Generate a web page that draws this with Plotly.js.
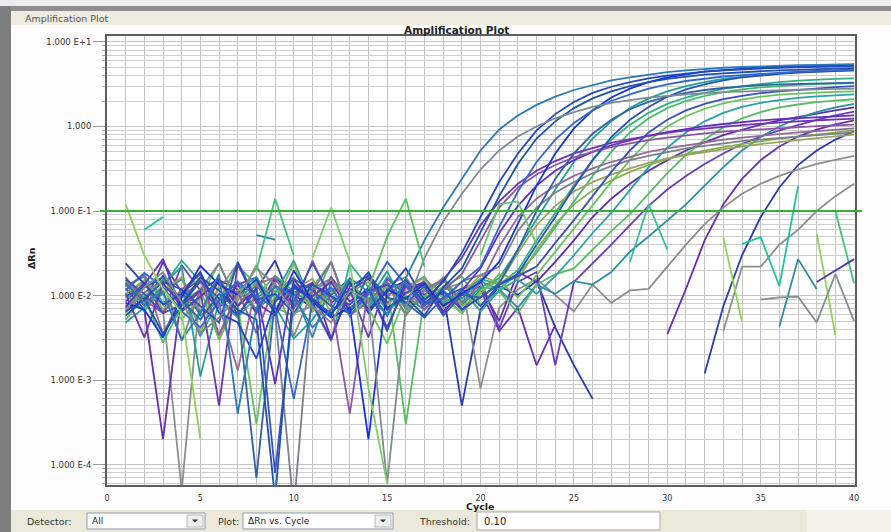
<!DOCTYPE html>
<html><head><meta charset="utf-8">
<script src="https://cdn.plot.ly/plotly-3.0.1.min.js"></script>
<style>html,body{margin:0;padding:0;background:#fdfdfd;overflow:hidden}#chart{width:891px;height:532px}</style>
</head><body><div id="chart"></div>
<script>
// ---------------- DATA ----------------
const cycles = [1,2,3,4,5,6,7,8,9,10,11,12,13,14,15,16,17,18,19,20,21,22,23,24,25,26,27,28,29,30,31,32,33,34,35,36,37,38,39,40];
const threshold = 0.10;
const yTickVals = [10, 1, 0.1, 0.01, 0.001, 0.0001];
const yTickText = ['1.000 E+1', '1.000', '1.000 E-1', '1.000 E-2', '1.000 E-3', '1.000 E-4'];
const xTickVals = [0,5,10,15,20,25,30,35,40];

// full 40-cycle wells (ΔRn)
const wellA1 = [0.014,0.0085,0.011,0.003,0.0062,0.018,0.0004,0.0072,0.013,0.0095,
 0.0042,0.0068,0.016,0.011,0.0058,0.016,0.045,0.11,0.24,0.52,
 0.92,1.35,1.8,2.25,2.7,3.1,3.5,3.8,4.1,4.4,
 4.6,4.8,4.95,5.05,5.15,5.25,5.3,5.35,5.4,5.45];
const wellA2 = [0.0068,0.0125,0.019,0.0082,0.0036,0.0055,0.0098,0.021,0.0135,0.0062,
 0.0075,0.0048,0.0115,0.0088,0.00006,0.0072,0.028,0.075,0.16,0.31,
 0.52,0.76,1.0,1.25,1.48,1.7,1.9,2.05,2.2,2.3,
 2.4,2.48,2.55,2.6,2.65,2.7,2.72,2.75,2.78,2.8];
const wellA3 = [0.024,0.0135,0.0078,0.0105,0.019,0.0062,0.0048,0.0018,0.0085,0.0125,
 0.0092,0.0058,0.0145,0.0068,0.0112,0.021,0.0088,0.0145,0.032,0.085,
 0.22,0.48,0.9,1.4,1.95,2.5,2.95,3.35,3.7,4.0,
 4.25,4.45,4.6,4.75,4.85,4.95,5.05,5.1,5.15,5.2];
const wellA4 = [0.0058,0.0092,0.0035,0.0078,0.0165,0.0115,0.0068,0.0052,0.00004,0.0135,
 0.0088,0.0062,0.0105,0.019,0.0072,0.0095,0.0058,0.0125,0.021,0.055,
 0.15,0.36,0.72,1.15,1.65,2.15,2.6,3.0,3.35,3.65,
 3.9,4.1,4.25,4.4,4.5,4.6,4.7,4.75,4.82,4.9];
const wellA5 = [0.0115,0.0185,0.0125,0.0065,0.0042,0.0088,0.0145,0.0098,0.0072,0.0006,
 0.0082,0.0125,0.0058,0.0105,0.025,0.0135,0.0078,0.0092,0.0145,0.022,
 0.065,0.17,0.38,0.7,1.1,1.55,2.0,2.4,2.8,3.15,
 3.45,3.7,3.9,4.05,4.2,4.35,4.45,4.55,4.62,4.7];
const wellA6 = [0.0082,0.0068,0.0032,0.0095,0.0225,0.0135,0.0102,0.0155,0.0062,0.0198,
 0.0085,0.0055,0.0072,0.0002,0.0118,0.0092,0.0138,0.0075,0.0105,0.0145,
 0.025,0.07,0.2,0.48,0.95,1.55,2.2,2.8,3.35,3.8,
 4.15,4.45,4.65,4.85,4.98,5.08,5.15,5.2,5.25,5.3];
const wellA7 = [0.0098,0.0125,0.0165,0.0088,0.0052,0.0105,0.0068,0.00007,0.0092,0.0158,
 0.0115,0.0075,0.0062,0.0178,0.0095,0.0082,0.0128,0.0058,0.0102,0.0095,
 0.014,0.035,0.1,0.24,0.48,0.82,1.2,1.6,1.95,2.25,
 2.5,2.7,2.85,2.98,3.08,3.15,3.2,3.24,3.27,3.3];
const wellA8 = [0.0065,0.0092,0.0145,0.0118,0.0075,0.0048,0.025,0.0088,0.0105,0.0062,
 0.0135,0.0098,0.0078,0.0125,0.0038,0.0155,0.0082,0.0112,0.0068,0.0095,
 0.0135,0.018,0.04,0.085,0.19,0.4,0.75,1.2,1.7,2.25,
 2.75,3.15,3.5,3.8,4.0,4.2,4.33,4.45,4.53,4.6];
const wellA9 = [0.0155,0.0105,0.0062,0.0078,0.0148,0.0092,0.0058,0.0125,0.00008,0.0085,
 0.024,0.0098,0.0065,0.0112,0.0135,0.0082,0.0055,0.0095,0.0122,0.0075,
 0.0135,0.017,0.022,0.042,0.078,0.15,0.29,0.52,0.85,1.2,
 1.55,1.85,2.1,2.3,2.48,2.6,2.72,2.82,2.92,3.0];
const wellB1 = [0.0048,0.0072,0.0135,0.022,0.0011,0.0088,0.0115,0.0165,0.0075,0.0031,
 0.0052,0.0105,0.0138,0.0088,0.0195,0.0068,0.0092,0.0115,0.0078,0.0125,
 0.016,0.035,0.08,0.18,0.38,0.72,1.15,1.65,2.15,2.6,
 3.0,3.35,3.65,3.9,4.1,4.25,4.38,4.48,4.55,4.6];
const wellB2 = [0.0105,0.0065,0.0128,0.026,0.0145,0.0085,0.0055,0.0098,0.0172,0.0112,
 0.0078,0.0029,0.024,0.0125,0.0068,0.0092,0.0145,0.0082,0.0105,0.0158,
 0.0135,0.02,0.045,0.095,0.2,0.4,0.7,1.05,1.45,1.85,
 2.2,2.5,2.78,3.0,3.2,3.35,3.48,3.58,3.65,3.7];
const wellB3 = [0.0145,0.0095,0.0028,0.0075,0.0118,0.0088,0.0225,0.0135,0.0065,0.0108,
 0.0082,0.025,0.0058,0.0092,0.0128,0.0072,0.0098,0.0165,0.0085,0.0125,
 0.012,0.018,0.032,0.065,0.13,0.26,0.5,0.85,1.25,1.65,
 2.0,2.3,2.55,2.75,2.9,3.02,3.1,3.16,3.2,3.25];
const wellB4 = [0.0062,0.0128,0.0105,0.0052,0.0095,0.024,0.0078,0.0003,0.0115,0.0142,
 0.0068,0.0088,0.0158,0.0072,0.0027,0.0105,0.0132,0.0095,0.0062,0.0115,
 0.015,0.0095,0.0175,0.033,0.062,0.115,0.22,0.4,0.68,1.0,
 1.32,1.62,1.88,2.08,2.25,2.38,2.46,2.52,2.56,2.6];
const wellB5 = [0.0128,0.0175,0.0082,0.0112,0.0033,0.0092,0.0148,0.0068,0.0105,0.026,
 0.0078,0.0115,0.0135,0.0088,0.0062,0.0125,0.0168,0.0072,0.0118,0.0065,
 0.0115,0.0155,0.0105,0.017,0.03,0.055,0.095,0.18,0.33,0.56,
 0.85,1.15,1.45,1.7,1.9,2.05,2.18,2.27,2.34,2.4];
const wellB6 = [0.0052,0.0098,0.0155,0.0085,0.0118,0.003,0.0088,0.0145,0.0072,0.0058,
 0.0125,0.025,0.0065,0.0105,0.0138,0.0003,0.0095,0.0125,0.0168,0.0078,
 0.0112,0.0062,0.0135,0.0178,0.021,0.035,0.058,0.092,0.16,0.28,
 0.46,0.7,0.98,1.25,1.48,1.68,1.82,1.94,2.02,2.1];
const wellB7 = [0.0135,0.0075,0.0105,0.0158,0.0058,0.0088,0.023,0.0095,0.0125,0.0112,
 0.0032,0.0145,0.0118,0.0072,0.0165,0.0098,0.0068,0.0128,0.0092,0.0148,
 0.0118,0.0072,0.0135,0.0105,0.0148,0.0135,0.019,0.033,0.05,0.078,
 0.12,0.2,0.33,0.52,0.75,1.0,1.25,1.48,1.68,1.85];
const wellC1 = [0.0105,0.0032,0.0138,0.0078,0.0115,0.0005,0.024,0.0082,0.0058,0.0125,
 0.0098,0.0145,0.0065,0.0118,0.0042,0.0132,0.0075,0.0155,0.028,0.068,
 0.13,0.21,0.3,0.39,0.48,0.56,0.64,0.71,0.78,0.84,
 0.9,0.95,1.0,1.04,1.08,1.12,1.15,1.18,1.21,1.24];
const wellC2 = [0.0165,0.0088,0.0062,0.0118,0.0178,0.0034,0.0112,0.0036,0.0135,0.0072,
 0.026,0.0085,0.0004,0.0128,0.0098,0.0148,0.0068,0.0115,0.018,0.045,
 0.11,0.19,0.27,0.35,0.43,0.5,0.57,0.63,0.69,0.74,
 0.79,0.83,0.87,0.9,0.93,0.96,0.99,1.01,1.03,1.05];
const wellC3 = [0.0072,0.0135,0.027,0.0065,0.0098,0.0148,0.0075,0.0118,0.0009,0.0155,
 0.0082,0.003,0.0128,0.0172,0.0068,0.0108,0.0142,0.0062,0.0115,0.021,
 0.055,0.115,0.2,0.3,0.4,0.5,0.6,0.69,0.78,0.86,
 0.94,1.01,1.07,1.13,1.18,1.22,1.26,1.29,1.32,1.35];
const wellC4 = [0.0128,0.0168,0.0035,0.0098,0.0145,0.0078,0.0013,0.0135,0.0165,0.0072,
 0.0112,0.025,0.0058,0.0085,0.0145,0.0075,0.0118,0.0155,0.0082,0.014,
 0.038,0.085,0.14,0.2,0.26,0.32,0.38,0.44,0.5,0.55,
 0.6,0.65,0.7,0.74,0.78,0.82,0.85,0.88,0.92,0.95];
const wellC5 = [0.0065,0.0108,0.0152,0.0029,0.0118,0.024,0.0078,0.0135,0.0062,0.00003,
 0.0122,0.0158,0.0072,0.0105,0.0142,0.0058,0.0115,0.0085,0.0148,0.0175,
 0.022,0.058,0.11,0.165,0.22,0.28,0.34,0.4,0.45,0.5,
 0.55,0.59,0.63,0.67,0.7,0.73,0.76,0.79,0.82,0.85];
const wellC6 = [0.0148,0.0082,0.0115,0.0165,0.0036,0.0132,0.0088,0.023,0.0072,0.0118,
 0.0158,0.0062,0.0108,0.0145,0.0078,0.0118,0.0165,0.0072,0.0105,0.0175,
 0.0138,0.032,0.068,0.115,0.17,0.22,0.27,0.32,0.37,0.42,
 0.46,0.5,0.54,0.58,0.62,0.66,0.69,0.73,0.77,0.8];
const wellC7 = [0.0105,0.0152,0.0068,0.0118,0.0158,0.003,0.0115,0.0135,0.0082,0.024,
 0.0065,0.0108,0.0142,0.0085,0.0128,0.0062,0.0118,0.0155,0.0075,0.0105,
 0.018,0.0155,0.035,0.07,0.12,0.175,0.23,0.29,0.35,0.41,
 0.47,0.52,0.57,0.62,0.67,0.72,0.76,0.8,0.85,0.9];
const wellC8 = [0.0138,0.0078,0.025,0.0108,0.0062,0.0152,0.0118,0.0068,0.0165,0.0102,
 0.0138,0.0031,0.0115,0.0158,0.0082,0.0118,0.0145,0.0065,0.0108,0.0128,
 0.005,0.019,0.0145,0.025,0.045,0.085,0.14,0.21,0.3,0.4,
 0.52,0.65,0.79,0.92,1.05,1.18,1.3,1.42,1.55,1.68];
const wellC9 = [0.0085,0.0142,0.0062,0.023,0.0115,0.0072,0.0135,0.0165,0.0068,0.0108,
 0.0142,0.0082,0.0118,0.0032,0.0158,0.0105,0.0135,0.0078,0.0118,0.0152,
 0.0041,0.0145,0.019,0.0015,0.0145,0.024,0.04,0.068,0.115,0.18,
 0.26,0.36,0.48,0.62,0.76,0.9,1.05,1.2,1.35,1.5];
const wellP1 = [0.0122,0.0068,0.0002,0.0108,0.0158,0.0078,0.0135,0.0062,0.0152,0.0102,
 0.0072,0.0165,0.0085,0.0118,0.0058,0.0142,0.0102,0.0158,0.0068,0.0118,
 0.0038,0.0072,0.0015,0.0045,null,null,null,null,null,0.0035,
 0.012,0.045,0.12,0.24,0.4,0.58,0.76,0.92,1.06,1.18];
const wellP2 = [0.0142,0.0085,0.0172,0.0068,0.0115,0.0158,0.0058,0.0118,0.026,0.0072,
 0.0135,0.0102,0.0158,0.0062,0.0118,0.0148,0.0078,0.0108,0.0005,0.0068,
 0.0128,0.0102,0.0148,0.0042,0.0015,0.0006,null,null,null,null,
 null,0.0012,0.0075,0.03,0.085,0.19,0.35,0.52,0.7,0.88];
const wellD1 = [0.0075,0.0135,0.0108,0.0158,0.0065,0.0118,0.024,0.0082,0.0142,0.0033,
 0.0115,0.0148,0.0102,0.0068,0.0135,0.0165,0.0078,0.0118,0.0142,0.0008,
 0.0072,0.0118,0.0158,0.0102,0.0065,0.0135,0.0082,0.0115,0.012,0.022,
 0.04,0.07,0.11,0.16,0.21,0.26,0.31,0.36,0.4,0.45];
const wellD2 = [0.0102,0.0148,0.0068,0.00005,0.0118,0.0158,0.0075,0.0135,0.0108,0.0165,
 0.0065,0.0118,0.0142,0.0082,0.0128,0.0072,0.0158,0.0102,0.0062,0.0115,
 null,null,null,null,null,null,null,null,null,null,
 null,null,0.0038,0.022,0.022,0.04,0.06,0.1,0.15,0.21];

// wells drawn only where ΔRn > 0 (cycle lists + values)
const wellE1Cyc = [2,3,34,35,36,37];        const wellE1Val = [0.06,0.085,0.041,0.049,0.013,0.197];
const wellE2Cyc = [1,2,3,4,5,33,34,38,39];   const wellE2Val = [0.12,0.03,0.012,0.0062,0.0002,0.049,0.0049,0.054,0.0034];
const wellE3Cyc = [8,9,36,37,38];            const wellE3Val = [0.052,0.046,0.0043,0.027,0.012];
const wellE4Cyc = [35,36,37,38,39,40];       const wellE4Val = [0.009,0.0095,0.0097,0.0048,0.018,0.005];
const wellE5Cyc = [8,9,10,39,40];            const wellE5Val = [0.02,0.14,0.03,0.1,0.014];
const wellE6Cyc = [38,39,40];                const wellE6Val = [0.0145,0.02,0.027];
const wellE7Cyc = [11,12,13,14,15];          const wellE7Val = [0.028,0.11,0.025,0.0008,0.00006];
const wellE8Cyc = [14,15,16,17];             const wellE8Val = [0.012,0.05,0.14,0.022];
const wellE9Cyc = [20,21,22,23];             const wellE9Val = [0.03,0.12,0.13,0.04];
const wellE10Cyc = [28,29,30];               const wellE10Val = [0.025,0.12,0.035];

// ---------------- STYLE ----------------
function sparse(cyc, val){ const a = cycles.map(() => null); cyc.forEach((c,i) => { a[c-1] = val[i]; }); return a; }
const wells = [wellD2, wellP2, wellP1, wellD1, wellC9, wellC8, wellB7, wellB6, wellB5, wellB4, wellB3, wellB2, wellB1,
  wellC7, wellC6, wellC5, wellC4, wellC3, wellC2, wellC1, wellA9, wellA8, wellA7, wellA6, wellA5, wellA4, wellA3, wellA2, wellA1,
  sparse(wellE1Cyc, wellE1Val), sparse(wellE2Cyc, wellE2Val), sparse(wellE3Cyc, wellE3Val), sparse(wellE4Cyc, wellE4Val),
  sparse(wellE5Cyc, wellE5Val), sparse(wellE6Cyc, wellE6Val), sparse(wellE7Cyc, wellE7Val), sparse(wellE8Cyc, wellE8Val),
  sparse(wellE9Cyc, wellE9Val), sparse(wellE10Cyc, wellE10Val)];
const wellColors = ['#8a918a','#2a3ab0','#6a2fb0','#8d8d8d','#6b3cbc','#5c30aa','#2b8ea3','#57bc66','#27a3aa','#66c45c','#45bb6d','#2fb283','#1fa294',
  '#7fb44e','#9aa35e','#7b7f8e','#93689a','#5f2fc6','#8c55a5','#7131b3','#3b4fc4','#2a50bd','#2f62a6','#1535d8','#3466cc','#1c52a8','#2445c4','#7d8b93','#2b7bb5',
  '#1fc49c','#8fd45a','#2e88a6','#7d8f8f','#3cc47a','#4a3ab8','#7cd06a','#58c45a','#66c86a','#3bbf9a'];

const traces = wells.map((w,i) => ({
  type:'scatter', mode:'lines', x:cycles, y:w, connectgaps:false,
  line:{color:wellColors[i], width:1.8}, hoverinfo:'skip'
}));

const L=107, R=855, T=36, B=485;
const yMin=-4.24, yMax=1.07;
const px = x => (x-L)/(R-L);
const py = y => (B-y)/(B-T);

const minorY = [];
for (let d=-5; d<=1; d++) for (let m=2; m<=9; m++) minorY.push(m*Math.pow(10,d));

const FONT = 'DejaVu Sans, Verdana, sans-serif';
const shapes = [
  {type:'rect', xref:'paper', yref:'paper', x0:px(0), x1:px(891), y0:py(0), y1:py(6), fillcolor:'#ececec', line:{width:0}, layer:'below'},
  {type:'rect', xref:'paper', yref:'paper', x0:px(0), x1:px(891), y0:py(6), y1:py(11), fillcolor:'#8e8e8e', line:{width:0}, layer:'below'},
  {type:'rect', xref:'paper', yref:'paper', x0:px(11), x1:px(891), y0:py(11), y1:py(25), fillcolor:'#efecdf', line:{width:0}, layer:'below'},
  {type:'rect', xref:'paper', yref:'paper', x0:px(0), x1:px(11), y0:py(6), y1:py(532), fillcolor:'#7e7e7e', line:{width:0}, layer:'below'},
  {type:'rect', xref:'paper', yref:'paper', x0:px(11), x1:px(891), y0:py(510), y1:py(532), fillcolor:'#ece9da', line:{width:0}, layer:'below'},
  {type:'rect', xref:'paper', yref:'paper', x0:px(807), x1:px(891), y0:py(510), y1:py(532), fillcolor:'#f3f1e9', line:{width:0}, layer:'below'},
  // dropdowns / textbox
  {type:'rect', xref:'paper', yref:'paper', x0:px(87), x1:px(205), y0:py(513), y1:py(529), fillcolor:'#ffffff', line:{color:'#8a9cb0', width:1}},
  {type:'rect', xref:'paper', yref:'paper', x0:px(187), x1:px(203), y0:py(515), y1:py(527), fillcolor:'#eeeeea', line:{color:'#b8b8b8', width:1}},
  {type:'path', xref:'paper', yref:'paper', path:`M ${px(192)},${py(519.5)} L ${px(198)},${py(519.5)} L ${px(195)},${py(522.5)} Z`, fillcolor:'#333', line:{width:0}},
  {type:'rect', xref:'paper', yref:'paper', x0:px(243), x1:px(393), y0:py(513), y1:py(529), fillcolor:'#ffffff', line:{color:'#8a9cb0', width:1}},
  {type:'rect', xref:'paper', yref:'paper', x0:px(375), x1:px(391), y0:py(515), y1:py(527), fillcolor:'#eeeeea', line:{color:'#b8b8b8', width:1}},
  {type:'path', xref:'paper', yref:'paper', path:`M ${px(380)},${py(519.5)} L ${px(386)},${py(519.5)} L ${px(383)},${py(522.5)} Z`, fillcolor:'#333', line:{width:0}},
  {type:'rect', xref:'paper', yref:'paper', x0:px(477), x1:px(660), y0:py(512), y1:py(530), fillcolor:'#ffffff', line:{color:'#a5a5a5', width:1}},
  // threshold
  {type:'line', xref:'paper', yref:'paper', x0:px(100), x1:px(862),
   y0:(Math.log10(threshold)-yMin)/(yMax-yMin), y1:(Math.log10(threshold)-yMin)/(yMax-yMin),
   line:{color:'#34b234', width:2}, layer:'above'}
];

const ann = (text, x, y, opt={}) => Object.assign({text, xref:'paper', yref:'paper', x:px(x), y:py(y),
  showarrow:false, xanchor:'left', yanchor:'middle', font:{family:FONT, size:9.5, color:'#333'}}, opt);

const annotations = [
  ann('Amplification Plot', 23, 18, {font:{family:FONT, size:9.5, color:'#555'}}),
  ann('<b>Amplification Plot</b>', 456, 30, {xanchor:'center', font:{family:FONT, size:10.5, color:'#222'}}),
  ann('<b>Cycle</b>', 480, 506, {xanchor:'center', font:{family:FONT, size:9.5, color:'#222'}}),
  ann('<b>ΔRn</b>', 31, 258, {xanchor:'center', textangle:-90, font:{family:FONT, size:9.5, color:'#222'}}),
  ann('Detector:', 25, 521),
  ann('All', 90, 521, {font:{family:FONT, size:9, color:'#222'}}),
  ann('Plot:', 216, 521),
  ann('ΔRn vs. Cycle', 246, 521, {font:{family:FONT, size:9, color:'#222'}}),
  ann('Threshold:', 417, 521),
  ann('0.10', 482, 521, {font:{family:FONT, size:10, color:'#222'}})
];

const layout = {
  width:891, height:532,
  margin:{l:L, r:891-R, t:T, b:532-B, pad:0},
  paper_bgcolor:'#fdfdfd', plot_bgcolor:'#ffffff',
  showlegend:false, hovermode:false,
  font:{family:FONT, size:8, color:'#333'},
  xaxis:{range:[0,40.05], tickmode:'array', tickvals:xTickVals, ticks:'outside', ticklen:4, tickcolor:'rgba(0,0,0,0)',
    showgrid:true, gridcolor:'#c4c4c4', gridwidth:1,
    minor:{dtick:1, tick0:0, showgrid:true, gridcolor:'#c4c4c4', gridwidth:1},
    showline:true, mirror:true, linecolor:'#5e5e5e', linewidth:2, zeroline:false,
    tickfont:{family:FONT, size:8, color:'#333'}},
  yaxis:{type:'log', range:[yMin,yMax], tickmode:'array', tickvals:yTickVals, ticktext:yTickText,
    ticks:'outside', ticklen:12, tickcolor:'#9a9a9a',
    showgrid:true, gridcolor:'#c4c4c4', gridwidth:1,
    minor:{tickmode:'array', tickvals:minorY, showgrid:true, gridcolor:'#cdcdcd', gridwidth:1, ticks:'outside', ticklen:3, tickcolor:'#b0b0b0'},
    showline:true, mirror:true, linecolor:'#5e5e5e', linewidth:2, zeroline:false,
    tickfont:{family:FONT, size:8.5, color:'#333'}},
  shapes, annotations
};

Plotly.newPlot('chart', traces, layout, {staticPlot:true, displayModeBar:false});
</script>
</body></html>
